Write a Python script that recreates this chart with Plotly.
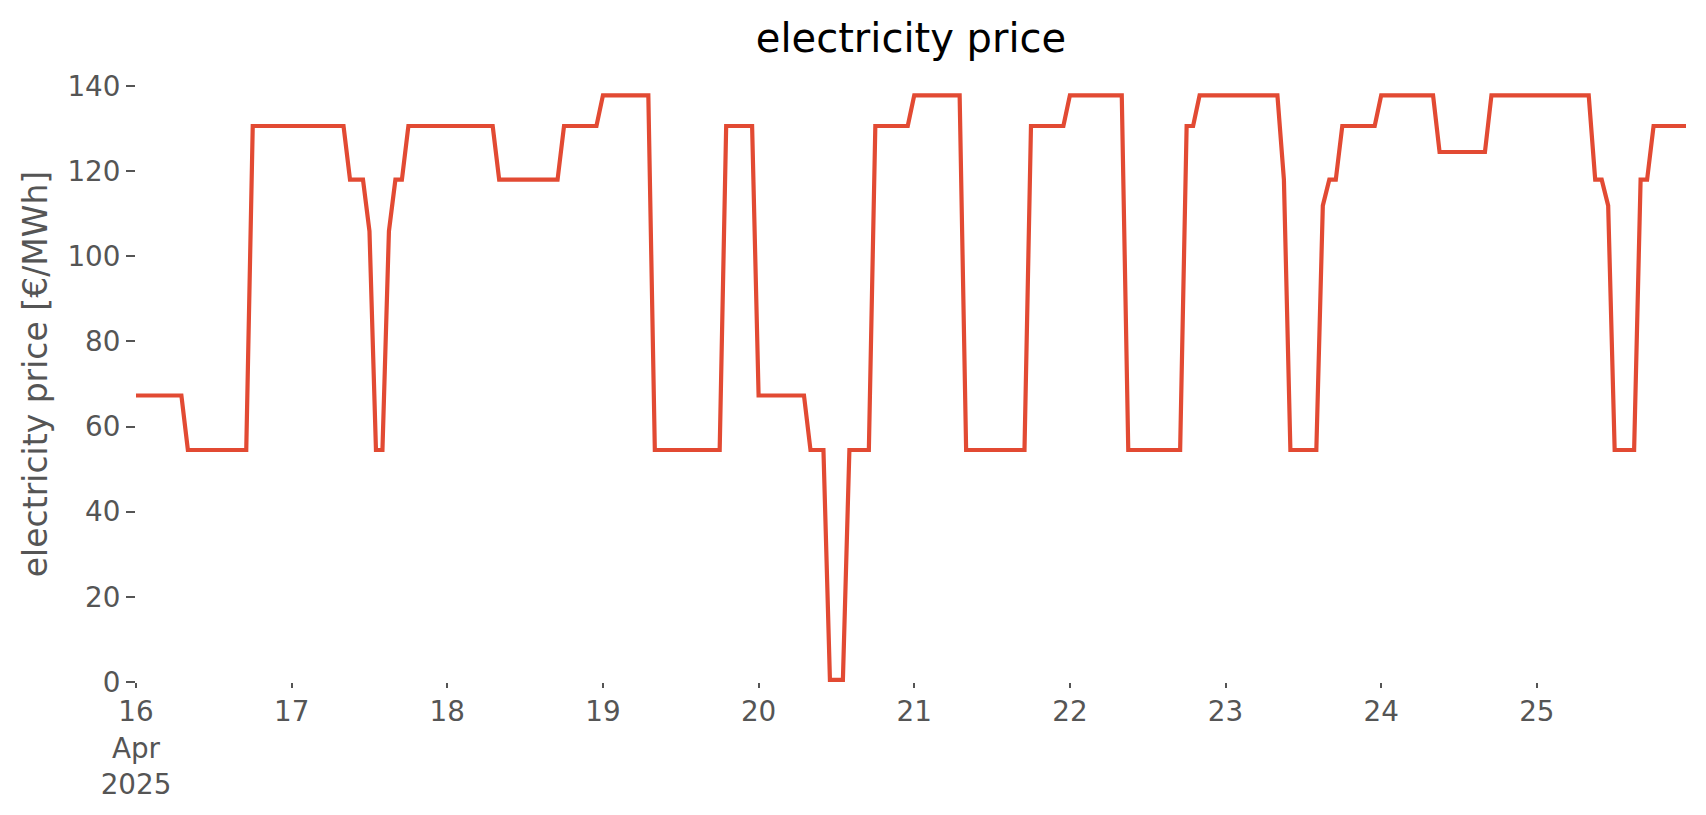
import pandas as pd
import plotly.graph_objects as go

# hourly electricity price [€/MWh], one list per day (00:00 .. 23:00)
day_16 = [67.3, 67.3, 67.3, 67.3, 67.3, 67.3, 67.3, 67.3,
          54.5, 54.5, 54.5, 54.5, 54.5, 54.5, 54.5, 54.5, 54.5, 54.5,
          130.6, 130.6, 130.6, 130.6, 130.6, 130.6]
day_17 = [130.6, 130.6, 130.6, 130.6, 130.6, 130.6, 130.6, 130.6, 130.6,
          118.0, 118.0, 118.0, 105.9, 54.5, 54.5, 105.9, 118.0, 118.0,
          130.6, 130.6, 130.6, 130.6, 130.6, 130.6]
day_18 = [130.6, 130.6, 130.6, 130.6, 130.6, 130.6, 130.6, 130.6,
          118.0, 118.0, 118.0, 118.0, 118.0, 118.0, 118.0, 118.0, 118.0, 118.0,
          130.6, 130.6, 130.6, 130.6, 130.6, 130.6]
day_19 = [137.8, 137.8, 137.8, 137.8, 137.8, 137.8, 137.8, 137.8,
          54.5, 54.5, 54.5, 54.5, 54.5, 54.5, 54.5, 54.5, 54.5, 54.5, 54.5,
          130.6, 130.6, 130.6, 130.6, 130.6]
day_20 = [67.3, 67.3, 67.3, 67.3, 67.3, 67.3, 67.3, 67.3,
          54.5, 54.5, 54.5, 0.5, 0.5, 0.5, 54.5, 54.5, 54.5, 54.5,
          130.6, 130.6, 130.6, 130.6, 130.6, 130.6]
day_21 = [137.8, 137.8, 137.8, 137.8, 137.8, 137.8, 137.8, 137.8,
          54.5, 54.5, 54.5, 54.5, 54.5, 54.5, 54.5, 54.5, 54.5, 54.5,
          130.6, 130.6, 130.6, 130.6, 130.6, 130.6]
day_22 = [137.8, 137.8, 137.8, 137.8, 137.8, 137.8, 137.8, 137.8, 137.8,
          54.5, 54.5, 54.5, 54.5, 54.5, 54.5, 54.5, 54.5, 54.5,
          130.6, 130.6, 137.8, 137.8, 137.8, 137.8]
day_23 = [137.8, 137.8, 137.8, 137.8, 137.8, 137.8, 137.8, 137.8, 137.8,
          118.0, 54.5, 54.5, 54.5, 54.5, 54.5, 111.9, 118.0, 118.0,
          130.6, 130.6, 130.6, 130.6, 130.6, 130.6]
day_24 = [137.8, 137.8, 137.8, 137.8, 137.8, 137.8, 137.8, 137.8, 137.8,
          124.5, 124.5, 124.5, 124.5, 124.5, 124.5, 124.5, 124.5,
          137.8, 137.8, 137.8, 137.8, 137.8, 137.8, 137.8]
day_25 = [137.8, 137.8, 137.8, 137.8, 137.8, 137.8, 137.8, 137.8, 137.8,
          118.0, 118.0, 111.9, 54.5, 54.5, 54.5, 54.5, 118.0, 118.0,
          130.6, 130.6, 130.6, 130.6, 130.6, 130.6]

price = day_16 + day_17 + day_18 + day_19 + day_20 + day_21 + day_22 + day_23 + day_24 + day_25
timestamps = pd.date_range("2025-04-16 00:00", periods=len(price), freq="h")

day_ticks = pd.date_range("2025-04-16", "2025-04-25", freq="D")
day_labels = ["16<br>Apr<br>2025", "17", "18", "19", "20", "21", "22", "23", "24", "25"]
y_ticks = [0, 20, 40, 60, 80, 100, 120, 140]

FONT = "DejaVu Sans"
GREY = "#555555"
RED = "#E24A33"

W, H = 1698, 807  # page body adds an 8px margin

fig = go.Figure()
fig.add_trace(go.Scatter(
    x=timestamps, y=price, mode="lines",
    line=dict(color=RED, width=4.2),
    showlegend=False,
))

fig.update_layout(
    width=W, height=H,
    paper_bgcolor="white", plot_bgcolor="white",
    margin=dict(l=128, r=20, t=58, b=133, autoexpand=False),
    font=dict(family=FONT, color=GREY, size=28),
    title=dict(text="electricity price", x=903/W, xanchor="center",
               y=1 - 30/H, yanchor="middle", yref="container",
               font=dict(family=FONT, size=40, color="black")),
    xaxis=dict(
        range=[timestamps[0], timestamps[-1]],
        tickmode="array", tickvals=list(day_ticks), ticktext=day_labels,
        ticks="outside", ticklen=5, tickwidth=2, tickcolor=GREY,
        tickfont=dict(family=FONT, size=27.8, color=GREY),
        showgrid=False, zeroline=False, showline=False,
    ),
    xaxis2=dict(
        overlaying="x", anchor="y", side="bottom", matches="x",
        range=[timestamps[0], timestamps[-1]],
        tickmode="array", tickvals=[timestamps[0], timestamps[-1]],
        showticklabels=False,
        ticks="outside", ticklen=10, tickwidth=2, tickcolor=GREY,
        showgrid=False, zeroline=False, showline=False,
    ),
    yaxis=dict(
        range=[0, 144.7],
        tickmode="array", tickvals=y_ticks,
        ticks="outside", ticklen=9, tickwidth=2, tickcolor=GREY,
        tickfont=dict(family=FONT, size=27.8, color=GREY),
        title=dict(text="electricity price [€/MWh]", standoff=9,
                   font=dict(family=FONT, size=33, color=GREY)),
        showgrid=False, zeroline=False, showline=False,
    ),
)

fig.write_html("out.html")
